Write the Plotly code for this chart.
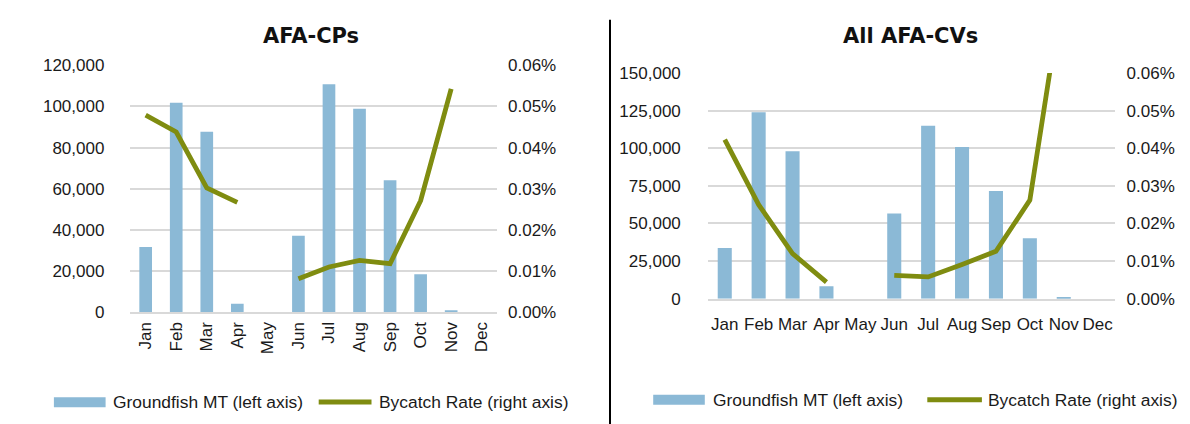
import plotly.graph_objects as go

W, H = 1190, 424

months = ["Jan", "Feb", "Mar", "Apr", "May", "Jun", "Jul", "Aug", "Sep", "Oct", "Nov", "Dec"]

# AFA-CPs
cp_groundfish = [31700, 101800, 87700, 4200, 0, 37200, 110800, 98900, 64100, 18500, 600, 0]
cp_bycatch = [0.000479, 0.000438, 0.000302, 0.000267, None, 0.0000816, 0.000110, 0.000126, 0.000118, 0.000271, 0.000543, None]

# All AFA-CVs
cv_groundfish = [33700, 123900, 98000, 8200, 0, 56700, 115000, 100800, 71600, 40100, 900, 0]
cv_bycatch = [0.000423, 0.000250, 0.000120, 0.000044, None, 0.000062, 0.000058, 0.000091, 0.000126, 0.000262, 0.00084, None]

titles = ["AFA-CPs", "All AFA-CVs"]
legend_bar = "Groundfish MT (left axis)"
legend_line = "Bycatch Rate (right axis)"

BAR = "#8bb9d6"
LINE = "#7f8c10"
GRID = "#d9d9d9"
FONT = "Liberation Sans, Arial, sans-serif"
TICKFONT = dict(family=FONT, size=17, color="#1a1a1a")


def px(x):
    return x / W


def py(y):
    return 1 - y / H


fig = go.Figure()

fig.add_trace(go.Bar(x=months, y=cp_groundfish, marker=dict(color=BAR, line=dict(width=0)),
                     xaxis="x", yaxis="y", showlegend=False))
fig.add_trace(go.Scatter(x=months, y=cp_bycatch, mode="lines", line=dict(color=LINE, width=4.8),
                         connectgaps=False, xaxis="x", yaxis="y2", showlegend=False))
fig.add_trace(go.Bar(x=months, y=cv_groundfish, marker=dict(color=BAR, line=dict(width=0)),
                     xaxis="x2", yaxis="y3", showlegend=False))
fig.add_trace(go.Scatter(x=months, y=cv_bycatch, mode="lines", line=dict(color=LINE, width=4.8),
                         connectgaps=False, xaxis="x2", yaxis="y4", showlegend=False))

common_y = dict(showgrid=True, gridcolor=GRID, gridwidth=2, zeroline=False, showline=False,
                ticks="", tickfont=TICKFONT, automargin=False, fixedrange=True)

fig.update_layout(
    width=W, height=H,
    margin=dict(l=0, r=0, t=0, b=0),
    paper_bgcolor="white", plot_bgcolor="white",
    bargap=0.585,
    xaxis=dict(domain=[px(122.4), px(489)], anchor="y", tickangle=-90, tickfont=TICKFONT,
               showgrid=False, showline=True, linecolor=GRID, linewidth=2, ticks="",
               ticklabelstandoff=1, automargin=False, fixedrange=True),
    yaxis=dict(domain=[py(304.3), py(57.3)], anchor="x", range=[0, 120000], dtick=20000,
               tickformat=",d", ticklabelstandoff=25, **common_y),
    yaxis2=dict(domain=[py(304.3), py(57.3)], anchor="x", overlaying="y", side="right",
                range=[0, 0.0006], dtick=0.0001, tickformat=".2%", ticklabelstandoff=10,
                **{**common_y, "showgrid": False}),
    xaxis2=dict(domain=[px(699.8), px(1106.6)], anchor="y3", tickangle=0, tickfont=TICKFONT,
                showgrid=False, showline=True, linecolor=GRID, linewidth=2, ticks="",
                ticklabelstandoff=9, automargin=False, fixedrange=True),
    yaxis3=dict(domain=[py(290.7), py(65)], anchor="x2", range=[0, 150000], dtick=25000,
                tickformat=",d", ticklabelstandoff=26, **common_y),
    yaxis4=dict(domain=[py(290.7), py(65)], anchor="x2", overlaying="y3", side="right",
                range=[0, 0.0006], dtick=0.0001, tickformat=".2%", ticklabelstandoff=11,
                **{**common_y, "showgrid": False}),
)

annotations = [
    dict(text="<b>%s</b>" % titles[0], x=px(303), y=py(28), xref="paper", yref="paper",
         xanchor="center", yanchor="middle", showarrow=False,
         font=dict(family="DejaVu Sans", size=21, color="#111111")),
    dict(text="<b>%s</b>" % titles[1], x=px(902.5), y=py(28), xref="paper", yref="paper",
         xanchor="center", yanchor="middle", showarrow=False,
         font=dict(family="DejaVu Sans", size=21, color="#111111")),
]
shapes = [
    dict(type="line", xref="paper", yref="paper", x0=px(602), x1=px(602), y0=0, y1=py(11.7),
         line=dict(color="#000000", width=2)),
]

legend_font = dict(family=FONT, size=17.4, color="#1a1a1a")
for (bx0, bx1, by0, by1, t1x, lx0, lx1, ly, t2x) in [
    (45.9, 97.6, 389.3, 399.3, 103.3, 310.7, 363.5, 394, 368.5),
    (645.2, 696.8, 386.7, 396.7, 702.8, 919.3, 973.9, 391.7, 977.6),
]:
    shapes.append(dict(type="rect", xref="paper", yref="paper", x0=px(bx0), x1=px(bx1),
                       y0=py(by1), y1=py(by0), fillcolor=BAR, line=dict(width=0)))
    shapes.append(dict(type="line", xref="paper", yref="paper", x0=px(lx0), x1=px(lx1),
                       y0=py(ly), y1=py(ly), line=dict(color=LINE, width=5)))
    annotations.append(dict(text=legend_bar, x=px(t1x), y=py((by0 + by1) / 2), xref="paper", yref="paper",
                            xanchor="left", yanchor="middle", showarrow=False, font=legend_font))
    annotations.append(dict(text=legend_line, x=px(t2x), y=py(ly), xref="paper", yref="paper",
                            xanchor="left", yanchor="middle", showarrow=False, font=legend_font))

fig.update_layout(annotations=annotations, shapes=shapes)

fig.write_html("out.html")
